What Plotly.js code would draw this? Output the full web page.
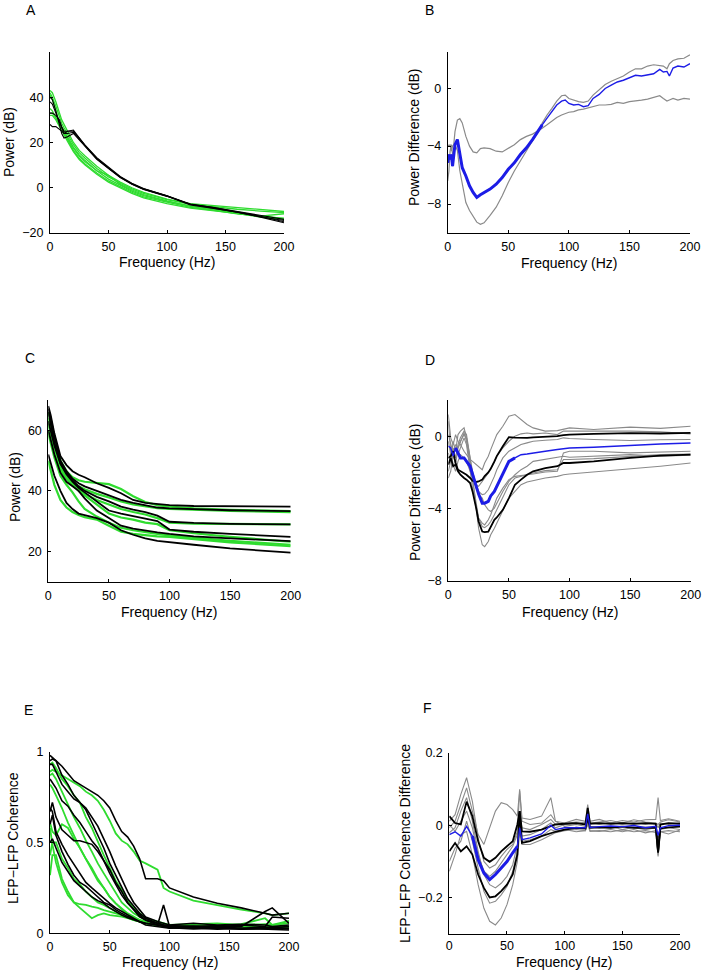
<!DOCTYPE html>
<html><head><meta charset="utf-8">
<script src="https://cdn.plot.ly/plotly-3.0.1.min.js"></script>
<style>html,body{margin:0;padding:0;background:#fff}#chart{width:705px;height:974px}</style>
</head><body><div id="chart"></div>
<script>
// ---------------- DATA ----------------
// Panel A: power spectra (dB)
const fA = [0,2,5,8,10,12,15,20,25,30,40,50,60,70,80,100,120,140,160,180,200];
const A_black = [
 [40,39,34,28,24,22,22.5,24,21,18,12.5,8.5,4.5,1.5,-0.8,-3.8,-7.3,-8.7,-10.4,-12.2,-14],
 [38,37,33,29,26,24,24,24.5,21.5,18.5,13,8.8,4.8,1.8,-0.5,-3.6,-7.2,-8.8,-10.6,-12.6,-15],
 [33,33,32,30,27,25,25,25,22,18.8,13.3,9,5,2,-0.3,-3.5,-7.4,-9,-10.8,-13,-15.5],
 [28,27,27,26,25,24,25,25.5,22,18.5,12.8,8.6,4.6,1.6,-0.6,-3.7,-7.6,-9.2,-10.8,-12.8,-14.5]
];
const A_green = [
 [43,42,38,33,30,28,25,20,16.5,14,9.5,5.5,2.5,0,-2,-5,-7,-7.8,-8.8,-9.7,-10.5],
 [42,40,36,31,28.5,26.5,23.5,19,15.5,13,8.5,4.8,2,-0.5,-2.5,-5.3,-7.3,-8.5,-9.5,-10.3,-11],
 [41,39,34,29,27,25,22.5,18,14.5,12,7.5,3.8,1,-1.5,-3.5,-6,-8,-9.5,-11,-12.5,-13.5],
 [35,34,31,28,26,24.5,22,17.5,14,11.5,7.5,5.5,1.5,-1,-3,-5.8,-8.2,-9.8,-11.5,-13,-14],
 [33,33,31,28,26,24,21,16.5,13,10.5,6.5,3,0.5,-2,-4,-6.5,-8.7,-10,-11.5,-12.5,-13.5],
 [32,32,30,27,25,23,20.5,16,12.5,10,6,2.5,0,-2.5,-4.5,-7,-9,-10.2,-11.5,-12.5,-11.5]
];
// Panel B: power difference (dB)
const fB = [0,1,2,3,4,5,6,8,10,12,15,18,21,24,27,30,35,40,45,50,55,60,65,70,75,78,82,86,90,94,97,100,104,108,112,116,120,125,130,135,140,145,150,155,160,165,170,175,178,181,183,186,190,195,200];
const B_mean = [-5.15,-4.58,-4.92,-4.58,-5.38,-4.81,-3.9,-3.55,-4.58,-5.49,-6.06,-6.74,-7.2,-7.54,-7.36,-7.2,-6.97,-6.63,-6.17,-5.6,-5.15,-4.58,-4.12,-3.55,-2.87,-2.53,-2.07,-1.62,-1.16,-0.89,-0.82,-1.05,-1.16,-1.12,-1.28,-1.21,-0.71,-0.43,-0.02,0.21,0.43,0.55,0.71,0.89,0.84,0.93,1.0,1.3,1.12,1.16,0.84,1.39,1.53,1.46,1.69];
const B_upper = [-3.9,-4.0,-3.9,-4.35,-4.0,-3.9,-3.0,-2.2,-2.1,-2.4,-3.33,-4.0,-4.4,-4.46,-4.17,-4.12,-4.17,-4.35,-4.4,-4.17,-3.9,-3.55,-3.33,-3.17,-2.94,-2.76,-2.53,-2.26,-2.03,-1.85,-1.78,-1.66,-1.62,-1.5,-1.44,-1.34,-1.28,-1.16,-1.16,-1.12,-0.98,-1.05,-0.93,-0.89,-0.82,-0.75,-0.66,-0.52,-0.71,-0.89,-0.82,-0.71,-0.82,-0.71,-0.75];
const B_lower = [-6.4,-5.72,-4.35,-3.9,-4.58,-4.35,-3.9,-4.3,-5.7,-6.6,-7.9,-8.45,-8.9,-9.25,-9.4,-9.3,-8.79,-8.22,-7.43,-6.51,-5.72,-5.03,-4.35,-3.67,-2.94,-2.41,-1.85,-1.39,-0.89,-0.52,-0.48,-0.71,-0.82,-0.93,-0.98,-0.89,-0.48,-0.14,0.25,0.48,0.66,0.84,1.12,1.34,1.34,1.53,1.62,1.57,1.53,1.34,1.69,1.91,2.03,2.07,2.3];
// Panel C: power spectra (dB)
const fC = [0,2,5,10,15,20,25,30,40,50,60,70,80,90,100,120,150,200];
const C_black = [
 [68,65,59,51.5,48.5,46.5,45.3,44.5,42.5,41,39.2,37,36,35.6,35.3,35,34.9,34.8],
 [67,64,58,50,46.5,44,42.5,41.5,40,38.5,37,36,35.2,34.5,34.2,33.9,33.6,33.3],
 [63,60,55,49,46,43.5,41.5,40,38,36.5,34.8,33.8,33,31.8,29.8,29.4,29.1,28.9],
 [66,62,56,49,45.5,43,41,39.5,36.5,33.5,32.5,31.6,30.8,30,27.2,26.5,25.8,24.8],
 [60,57,52,46,43,41.5,40,37.5,33.5,31,28.5,27.5,26.8,26.3,25.8,25,24.3,23.4],
 [52,49,45,40,36,34,32.5,32,31,29.5,27,25.5,24.3,23.5,23,22.2,21,19.6]
];
const C_green = [
 [66,63,58,50,46.5,44.5,43.5,43,42.5,42.2,40.6,38.2,36.3,35.3,34.8,34.2,33.7,33.3],
 [64,61,56,48,45,43,41.5,40.5,39,37.8,36.5,35.5,34.8,34.3,34,33.7,33.4,33.0],
 [62,59,54,48,45,42.5,40.5,39,37,35.5,34,33,32.2,31,29.5,29.2,29,28.9],
 [60,58,53,47,44,42,40,38.5,35.5,32.5,31.2,30.5,29.5,29,27,26,24.8,23.2],
 [59,56,51,45,42,39.5,36.5,34,31.5,29.5,27.8,27,26.3,25.8,25.3,24.5,23.5,22.2],
 [50,47,42,37,34.5,33,32,31.3,30.5,28.5,26.5,25.8,25.3,25,24.8,24,23,21.7]
];
// Panel D: power difference (dB)
const fD = [0,2,4,6,8,10,13,15,18,20,23,25,28,30,33,35,38,40,45,50,55,60,65,70,80,90,95,100,120,150,175,200];
const D_mean = [-0.55,-0.65,-1.1,-0.65,-0.92,-1.2,-1.2,-1.39,-1.66,-2.1,-2.77,-3.2,-3.7,-3.7,-3.6,-3.3,-3.05,-2.77,-2.03,-1.39,-1.2,-1.02,-0.98,-0.92,-0.83,-0.74,-0.68,-0.65,-0.61,-0.5,-0.43,-0.37];
const D_black = [
 [-1.2,-1.1,-0.83,-1.48,-1.85,-1.94,-2.03,-2.13,-2.31,-2.46,-2.53,-2.5,-2.4,-2.2,-2.0,-1.8,-1.4,-1.1,-0.55,-0.05,-0.08,-0.1,-0.09,-0.06,-0.04,0,0.06,0.09,0.13,0.17,0.15,0.18],
 [-1.57,-1.2,-1.66,-1.57,-1.94,-2.13,-2.31,-2.4,-2.59,-3.05,-3.97,-4.71,-5.27,-5.3,-5.27,-4.99,-4.62,-4.49,-4.07,-3.42,-2.68,-2.4,-2.13,-1.94,-1.76,-1.66,-1.48,-1.48,-1.39,-1.2,-1.07,-1.02]
];
const D_gray = [
 [1.2,-0.09,-0.46,0.09,-0.28,-0.46,-0.83,-1.02,-1.29,-1.39,-1.57,-1.66,-1.85,-1.48,-1.11,-0.74,-0.28,0.09,0.55,1.11,1.2,0.92,0.65,0.46,0.28,0.31,0.37,0.46,0.37,0.5,0.43,0.55],
 [-0.92,-1.39,-0.28,-0.83,0.09,0.28,0.46,-0.09,-1.39,-2.13,-2.68,-2.77,-2.5,-2.31,-2.03,-1.76,-1.39,-1.11,-0.65,-0.28,0,0.13,0.18,0.13,0.18,0.09,0.28,0.28,0.31,0.28,0.24,0.13],
 [-1.94,-1.39,-0.65,-1.2,-0.46,-0.09,0.28,0.09,-1.2,-2.31,-3.97,-5.08,-6.0,-6.1,-5.82,-5.45,-5.08,-4.8,-4.07,-3.42,-3.05,-2.68,-2.53,-2.46,-2.31,-2.22,-2.13,-2.09,-1.98,-1.79,-1.66,-1.48],
 [-2.31,-1.94,-1.02,-1.57,-0.65,-0.28,0.18,-0.28,-1.57,-2.5,-3.79,-4.53,-4.99,-5.05,-4.9,-4.71,-4.34,-4.07,-3.33,-2.68,-2.31,-2.22,-2.13,-2.03,-1.9,-1.85,-1.29,-1.29,-1.24,-1.11,-1.02,-0.98],
 [-0.28,-1.02,-1.2,-0.65,-1.02,-0.65,-0.09,-0.46,-1.94,-2.87,-3.97,-4.53,-4.8,-4.9,-4.62,-4.34,-3.79,-3.42,-2.87,-2.4,-2.22,-2.16,-2.13,-2.09,-1.98,-1.94,-0.92,-0.83,-0.83,-0.92,-0.87,-0.83],
 [0.09,-0.46,-0.92,-0.46,-0.65,-0.28,0.09,-0.09,-1.2,-1.94,-2.68,-3.05,-3.23,-3.2,-2.96,-2.68,-2.22,-1.85,-1.2,-0.83,-0.65,-0.46,-0.37,-0.28,-0.22,-0.18,-0.09,-0.13,-0.18,-0.24,-0.2,-0.18],
 [0.83,-0.83,-1.57,-1.94,-1.39,-1.02,-1.2,-1.39,-1.94,-2.31,-2.96,-3.23,-3.42,-3.79,-4.07,-4.16,-3.97,-3.7,-3.05,-2.5,-2.13,-1.85,-1.66,-1.39,-1.29,-1.2,-1.11,-1.16,-1.11,-1.02,-1.11,-1.05]
];
// Panel E: LFP-LFP coherence
const fE = [0,2,5,10,15,20,25,30,35,40,45,50,55,60,65,70,75,80,90,95,100,120,140,160,180,186,200];
const E_black = [
 [0.95,0.96,0.95,0.92,0.88,0.84,0.82,0.80,0.78,0.76,0.73,0.69,0.62,0.56,0.53,0.48,0.41,0.30,0.30,0.29,0.25,0.20,0.165,0.14,0.11,0.10,0.11],
 [0.98,0.97,0.95,0.87,0.82,0.76,0.72,0.69,0.64,0.59,0.52,0.45,0.37,0.30,0.23,0.17,0.13,0.09,0.065,0.055,0.046,0.055,0.046,0.05,0.046,0.037,0.046],
 [0.93,0.93,0.89,0.82,0.78,0.74,0.72,0.68,0.61,0.54,0.47,0.385,0.32,0.26,0.19,0.15,0.11,0.083,0.055,0.046,0.037,0.031,0.037,0.028,0.035,0.031,0.037],
 [0.85,0.83,0.80,0.73,0.70,0.65,0.61,0.56,0.51,0.47,0.40,0.33,0.27,0.21,0.165,0.13,0.10,0.073,0.046,0.156,0.037,0.028,0.031,0.024,0.028,0.031,0.024],
 [0.67,0.72,0.64,0.57,0.54,0.51,0.51,0.50,0.49,0.45,0.40,0.35,0.28,0.23,0.17,0.13,0.09,0.073,0.055,0.046,0.042,0.037,0.042,0.037,0.12,0.14,0.055],
 [0.69,0.67,0.56,0.49,0.43,0.38,0.33,0.28,0.25,0.22,0.19,0.165,0.14,0.12,0.10,0.083,0.064,0.055,0.046,0.037,0.031,0.024,0.028,0.022,0.024,0.028,0.028],
 [0.50,0.52,0.47,0.39,0.34,0.29,0.26,0.23,0.20,0.18,0.165,0.14,0.12,0.10,0.086,0.073,0.064,0.046,0.037,0.031,0.028,0.031,0.022,0.028,0.022,0.024,0.018],
 [0.60,0.65,0.54,0.45,0.38,0.32,0.28,0.26,0.23,0.20,0.17,0.156,0.13,0.11,0.092,0.079,0.064,0.055,0.046,0.042,0.037,0.040,0.035,0.046,0.037,0.09,0.083]
];
const E_green = [
 [0.89,0.90,0.89,0.87,0.85,0.83,0.81,0.78,0.76,0.73,0.68,0.62,0.55,0.51,0.49,0.45,0.40,0.385,0.35,0.25,0.23,0.18,0.155,0.13,0.11,0.10,0.11],
 [0.93,0.94,0.91,0.85,0.81,0.76,0.72,0.64,0.58,0.50,0.43,0.36,0.29,0.24,0.18,0.14,0.11,0.083,0.064,0.055,0.046,0.05,0.055,0.046,0.05,0.046,0.055],
 [0.87,0.88,0.85,0.78,0.71,0.64,0.58,0.51,0.45,0.385,0.33,0.275,0.22,0.17,0.14,0.11,0.092,0.073,0.055,0.046,0.037,0.031,0.037,0.031,0.037,0.031,0.035],
 [0.82,0.80,0.76,0.69,0.61,0.54,0.47,0.41,0.36,0.30,0.25,0.20,0.165,0.13,0.10,0.083,0.068,0.055,0.042,0.037,0.031,0.037,0.028,0.035,0.028,0.031,0.028],
 [0.61,0.56,0.54,0.60,0.58,0.52,0.47,0.41,0.35,0.29,0.25,0.20,0.165,0.14,0.11,0.092,0.073,0.06,0.046,0.037,0.031,0.037,0.031,0.037,0.031,0.037,0.031],
 [0.43,0.50,0.50,0.41,0.36,0.30,0.27,0.23,0.20,0.17,0.156,0.14,0.12,0.10,0.086,0.073,0.064,0.055,0.046,0.04,0.035,0.04,0.035,0.042,0.035,0.04,0.037],
 [0.32,0.43,0.43,0.30,0.23,0.17,0.14,0.11,0.083,0.10,0.11,0.10,0.097,0.092,0.083,0.073,0.064,0.055,0.05,0.046,0.037,0.040,0.031,0.037,0.031,0.035,0.028],
 [0.58,0.49,0.39,0.28,0.21,0.17,0.16,0.156,0.147,0.14,0.128,0.12,0.11,0.10,0.092,0.083,0.073,0.064,0.055,0.046,0.042,0.046,0.040,0.050,0.083,0.046,0.068]
];
// Panel F: LFP-LFP coherence difference
const fF = [0,5,10,15,20,25,30,35,40,45,50,55,59,61,63,70,80,88,92,100,110,118,120,122,130,140,150,160,170,179,181,183,190,200];
const F_mean = [-0.026,-0.018,-0.03,-0.003,-0.03,-0.095,-0.132,-0.15,-0.136,-0.118,-0.1,-0.076,-0.058,-0.007,-0.04,-0.035,-0.024,0.0,-0.012,-0.007,-0.006,-0.007,0.031,-0.006,-0.004,-0.002,-0.004,-0.001,-0.007,-0.003,-0.028,-0.007,-0.001,0];
const F_black = [
 [0.025,0.006,0.002,0.065,0.025,-0.044,-0.09,-0.101,-0.09,-0.072,-0.058,-0.044,0.002,0.039,-0.017,-0.018,-0.012,-0.003,0.002,0.004,0.006,0.002,0.048,0.004,0.006,0.004,0.006,0.004,0.006,0.004,-0.072,0.002,0.006,0.004],
 [-0.072,-0.049,-0.072,-0.058,-0.081,-0.136,-0.173,-0.199,-0.196,-0.182,-0.164,-0.136,-0.081,0.039,-0.049,-0.044,-0.03,-0.021,-0.018,-0.012,-0.007,-0.009,0.02,-0.007,-0.006,-0.007,-0.004,-0.007,-0.006,-0.007,-0.076,-0.009,-0.006,-0.004]
];
const F_gray = [
 [0.011,0.029,0.085,0.131,0.066,-0.035,-0.1,-0.118,-0.109,-0.086,-0.067,-0.053,-0.017,0.094,0.011,0.002,0.006,0.029,0.011,0.006,0.016,0.011,0.057,0.011,0.016,0.006,0.013,0.009,0.015,0.016,0.076,0.013,0.018,0.011],
 [-0.007,0.011,0.057,0.103,0.039,-0.026,-0.053,-0.007,0.039,0.062,0.057,0.043,0.025,0.099,0.02,0.016,0.025,0.076,0.011,-0.003,0.002,-0.003,0.039,-0.003,-0.007,-0.003,-0.012,-0.006,-0.012,-0.007,-0.081,-0.012,-0.007,-0.012],
 [-0.127,-0.081,-0.026,-0.017,-0.081,-0.164,-0.229,-0.265,-0.275,-0.256,-0.219,-0.164,-0.1,-0.017,-0.053,-0.053,-0.04,-0.026,-0.021,-0.015,-0.012,-0.015,0.011,-0.015,-0.017,-0.012,-0.018,-0.012,-0.021,-0.015,-0.035,-0.018,-0.024,-0.013],
 [-0.021,-0.007,0.039,0.076,0.011,-0.072,-0.136,-0.164,-0.173,-0.16,-0.141,-0.109,-0.053,0.016,-0.03,-0.026,-0.012,0.006,-0.007,0.002,0.004,0.006,0.025,0.006,0.009,0.013,0.006,0.015,0.009,0.006,0.002,0.009,0.015,0.009],
 [-0.1,-0.063,-0.044,0.011,-0.044,-0.118,-0.182,-0.215,-0.21,-0.192,-0.169,-0.127,-0.072,0.011,-0.044,-0.04,-0.03,-0.012,-0.017,-0.012,-0.018,-0.015,0.002,-0.017,-0.015,-0.018,-0.013,-0.018,-0.015,-0.02,-0.086,-0.018,-0.015,-0.018],
 [0.002,-0.017,0.011,0.039,-0.007,-0.081,-0.127,-0.141,-0.127,-0.104,-0.081,-0.058,-0.026,0.029,-0.007,-0.012,0.002,0.016,0.002,0.006,0.009,0.007,0.039,0.006,0.002,0.007,0.002,0.006,0.002,0.006,-0.007,0.006,0.002,0.006]
];
// Axis ticks
const freqTicks = [0,50,100,150,200];
const yTicksA = [-20,0,20,40], yTicksB = [-8,-4,0], yTicksC = [20,40,60];
const yTicksD = [-8,-4,0], yTicksE = [0,0.5,1], yTicksF = [-0.2,0,0.2];

// ---------------- STYLE / LAYOUT ----------------
const W = 705, H = 974;
const FONT = 'Liberation Sans, Arial, sans-serif';
const GREEN = '#2fdc2f', BLACK = '#000000', GRAY = '#8a8a8a', BLUE = '#1c1ce6';
const px = x => x / W, py = y => 1 - y / H;

const traces = [];
function addLines(ax, f, list, color, width) {
  list.forEach(s => traces.push({x: f, y: s, xaxis: 'x' + ax, yaxis: 'y' + ax, mode: 'lines',
    line: {color: color, width: width}, hoverinfo: 'skip', showlegend: false}));
}
function addThick(ax, f, s, lo, hi, color, width) {
  const xs = [], ys = [];
  f.forEach((v, i) => { if (v >= lo && v <= hi) { xs.push(v); ys.push(s[i]); } });
  traces.push({x: xs, y: ys, xaxis: 'x' + ax, yaxis: 'y' + ax, mode: 'lines',
    line: {color: color, width: width}, hoverinfo: 'skip', showlegend: false});
}

// A
addLines('', fA, A_green, GREEN, 1.3);
addLines('', fA, A_black, BLACK, 1.1);
// B
addLines('2', fB, [B_upper, B_lower], GRAY, 1.2);
addLines('2', fB, [B_mean], BLUE, 1.4);
addThick('2', fB, B_mean, 0, 78, BLUE, 3);
// C
addLines('3', fC, C_green, GREEN, 2.2);
addLines('3', fC, C_black, BLACK, 1.8);
// D
addLines('4', fD, D_gray, GRAY, 1.1);
addLines('4', fD, D_black, BLACK, 1.8);
addLines('4', fD, [D_mean], BLUE, 1.5);
addThick('4', fD, D_mean, 5, 55, BLUE, 3);
// E
addLines('5', fE, E_green, GREEN, 1.8);
addLines('5', fE, E_black, BLACK, 1.6);
// F
addLines('6', fF, F_gray, GRAY, 1.1);
addLines('6', fF, F_black, BLACK, 1.8);
addLines('6', fF, [F_mean], BLUE, 1.4);
addThick('6', fF, F_mean, 20, 59, BLUE, 3);

function xa(l, r, anchor, standoff) {
  return {domain: [px(l), px(r)], range: [0, 200], tickvals: freqTicks, ticks: 'inside', ticklen: 3,
    tickcolor: '#000', showline: true, linecolor: '#000', linewidth: 1, showgrid: false, zeroline: false,
    tickfont: {family: FONT, size: 12.5, color: '#000'}, anchor: anchor, fixedrange: true,
    ticklabelstandoff: (standoff === undefined ? 2 : standoff)};
}
function ya(top, bot, range, tv, anchor) {
  return {domain: [py(bot), py(top)], range: range, tickvals: tv, ticks: 'inside', ticklen: 3,
    tickcolor: '#000', showline: true, linecolor: '#000', linewidth: 1, showgrid: false, zeroline: false,
    tickfont: {family: FONT, size: 12.5, color: '#000'}, anchor: anchor, fixedrange: true, ticklabelstandoff: 3};
}

function ann(text, x, y, opts) {
  return Object.assign({text: text, x: px(x), y: py(y), xref: 'paper', yref: 'paper', showarrow: false,
    xanchor: 'center', yanchor: 'middle', font: {family: FONT, size: 14, color: '#000'}}, opts || {});
}

const layout = {
  width: W, height: H, margin: {l: 0, r: 0, t: 0, b: 0},
  paper_bgcolor: '#fff', plot_bgcolor: 'rgba(0,0,0,0)', showlegend: false,
  xaxis:  xa(50, 284, 'y'),   yaxis:  ya(52, 233, [-20, 60], yTicksA, 'x'),
  xaxis2: xa(447.7, 690, 'y2'), yaxis2: ya(52, 233, [-10, 2.5], yTicksB, 'x2'),
  xaxis3: xa(48.3, 290.7, 'y3'), yaxis3: ya(400, 581.7, [10, 70], yTicksC, 'x3'),
  xaxis4: xa(448.3, 690.7, 'y4'), yaxis4: ya(400, 581, [-8, 2], yTicksD, 'x4'),
  xaxis5: xa(50, 289, 'y5'), yaxis5: ya(751.7, 933.3, [0, 1], yTicksE, 'x5'),
  xaxis6: xa(449.3, 680, 'y6', 0), yaxis6: ya(752.7, 934, [-0.3, 0.2], yTicksF, 'x6'),
  annotations: [
    ann('A', 24, 10, {xanchor: 'left'}), ann('B', 423, 10, {xanchor: 'left'}),
    ann('C', 23, 358, {xanchor: 'left'}), ann('D', 423, 360, {xanchor: 'left'}),
    ann('E', 22, 710, {xanchor: 'left'}), ann('F', 421, 708, {xanchor: 'left'}),
    ann('Frequency (Hz)', 167, 262), ann('Frequency (Hz)', 569, 263),
    ann('Frequency (Hz)', 169, 612), ann('Frequency (Hz)', 570, 612),
    ann('Frequency (Hz)', 170, 962), ann('Frequency (Hz)', 564, 962),
    ann('Power (dB)', 9, 142, {textangle: -90}),
    ann('Power Difference (dB)', 414, 137, {textangle: -90}),
    ann('Power (dB)', 15, 487, {textangle: -90}),
    ann('Power Difference (dB)', 415, 493, {textangle: -90}),
    ann('LFP\u2212LFP Coherence', 13, 838, {textangle: -90}),
    ann('LFP\u2212LFP Coherence Difference', 405, 844, {textangle: -90})
  ]
};

Plotly.newPlot('chart', traces, layout, {displayModeBar: false, staticPlot: true});
</script></body></html>
